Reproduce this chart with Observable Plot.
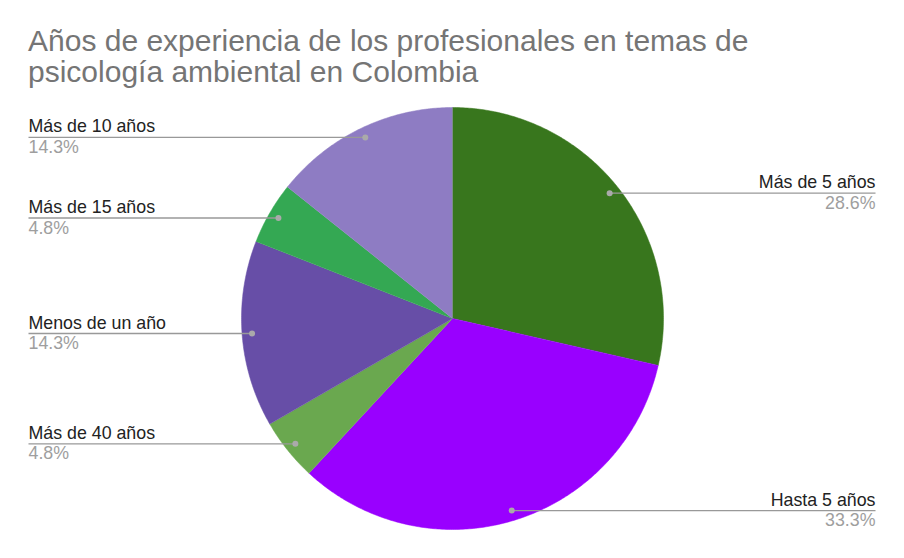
<!DOCTYPE html>
<html><head><meta charset="utf-8">
<script src="https://cdn.jsdelivr.net/npm/d3@7"></script>
<script src="https://cdn.jsdelivr.net/npm/@observablehq/plot@0.6"></script>
<style>
body{margin:0;background:#fff;font-family:"Liberation Sans",Arial,sans-serif;}
.title{position:absolute;left:28px;font-size:30px;line-height:30px;height:30px;color:#757575;white-space:nowrap;}
#t1{top:26px;} #t2{top:57px;}
#chart{position:absolute;left:0;top:100px;}
</style></head><body>
<div class="title" id="t1">Años de experiencia de los profesionales en temas de</div>
<div class="title" id="t2">psicología ambiental en Colombia</div>
<div id="chart"></div>
<script>
const categories = ["Más de 5 años","Hasta 5 años","Más de 40 años","Menos de un año","Más de 15 años","Más de 10 años"];
const values = [6, 7, 1, 3, 1, 3];
const colors = ["#38761d","#9900ff","#6aa84f","#674ea7","#34a853","#8e7cc3"];

const W = 904, H = 458, cx = 452, cy = 218, R = 211;
const total = d3.sum(values);
const arcs = d3.pie().sort(null).value(d => d)(values);
const slicePts = [];
arcs.forEach((a, i) => {
  slicePts.push({cat: categories[i], x: cx, y: cy});
  const n = Math.max(2, Math.ceil((a.endAngle - a.startAngle) / 0.01));
  for (let k = 0; k <= n; k++) {
    const t = a.startAngle + (a.endAngle - a.startAngle) * k / n;
    slicePts.push({cat: categories[i], x: cx + R * Math.sin(t), y: cy - R * Math.cos(t)});
  }
});
const labels = arcs.map((a, i) => {
  const m = (a.startAngle + a.endAngle) / 2;
  const px = cx + (R - 10) * Math.sin(m), py = cy - (R - 10) * Math.cos(m);
  const left = m > Math.PI;
  return {cat: categories[i], pct: (values[i] / total * 100).toFixed(1) + "%", px, py, lx: left ? 28 : 875, left};
});
const L = labels.filter(d => d.left), Rt = labels.filter(d => !d.left);
const font = "Liberation Sans, Arial, sans-serif";
const fs = 17.8;
const plot = Plot.plot({
  width: W, height: H, margin: 0,
  x: {domain: [0, W], range: [0, W], axis: null},
  y: {domain: [0, H], range: [0, H], axis: null},
  color: {domain: categories, range: colors},
  style: {fontFamily: font, background: "white"},
  marks: [
    Plot.line(slicePts, {x: "x", y: "y", z: "cat", fill: "cat", stroke: "cat", strokeWidth: 0.5, curve: "linear"}),
    Plot.link(labels, {x1: "px", y1: "py", x2: "lx", y2: "py", stroke: "#999", strokeWidth: 1.3}),
    Plot.dot(labels, {x: "px", y: "py", r: 3, fill: "#aaa", stroke: null}),
    Plot.text(L, {x: "lx", y: "py", text: "cat", textAnchor: "start", lineAnchor: "bottom", dy: -5, fill: "#222", fontSize: fs}),
    Plot.text(L, {x: "lx", y: "py", text: "pct", textAnchor: "start", lineAnchor: "top", dy: 3, fill: "#9e9e9e", fontSize: fs}),
    Plot.text(Rt, {x: "lx", y: "py", text: "cat", textAnchor: "end", lineAnchor: "bottom", dy: -5, fill: "#222", fontSize: fs}),
    Plot.text(Rt, {x: "lx", y: "py", text: "pct", textAnchor: "end", lineAnchor: "top", dy: 3, fill: "#9e9e9e", fontSize: fs})
  ]
});
document.getElementById("chart").appendChild(plot);
</script>
</body></html>
